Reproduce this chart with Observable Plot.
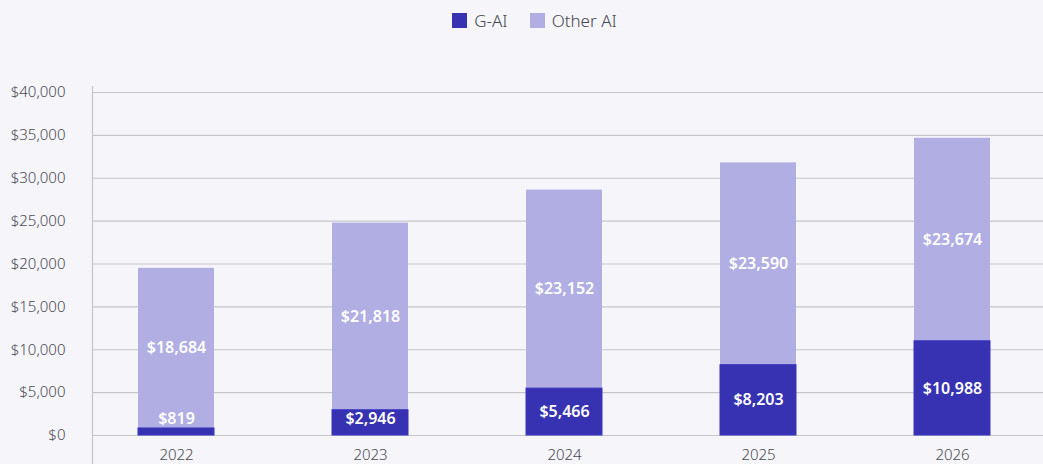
<!DOCTYPE html>
<html>
<head>
<meta charset="utf-8">
<script src="https://cdn.jsdelivr.net/npm/d3@7"></script>
<script src="https://cdn.jsdelivr.net/npm/@observablehq/plot@0.6"></script>
<style>
  html, body { margin: 0; padding: 0; background: #f5f5fa; }
  body { width: 1043px; height: 464px; overflow: hidden; font-family: "Noto Sans", sans-serif; }
  #legend { height: 40px; display: flex; justify-content: center; align-items: center; gap: 22px; font-size: 17px; color: #45454f; padding-left: 26px; box-sizing: border-box; font-weight: 300; }
  .item { display: flex; align-items: center; gap: 7px; }
  .sw { width: 15px; height: 15px; display: inline-block; }
</style>
</head>
<body>
<div id="legend"></div>
<div id="chart"></div>
<script>
const years = ["2022", "2023", "2024", "2025", "2026"];
const gai = [819, 2946, 5466, 8203, 10988];
const other = [18684, 21818, 23152, 23590, 23674];
const series = ["G-AI", "Other AI"];
const colors = ["#3632b1", "#b0aee3"];
const yTicks = [0, 5000, 10000, 15000, 20000, 25000, 30000, 35000, 40000];

const gaiData = years.map((y, i) => ({year: y, series: "G-AI", value: gai[i], base: 0}));
const otherData = years.map((y, i) => ({year: y, series: "Other AI", value: other[i], base: gai[i]}));
const data = gaiData.concat(otherData);

const fmt = v => "$" + d3.format(",")(v);

const legend = document.getElementById("legend");
series.forEach((s, i) => {
  const it = document.createElement("div");
  it.className = "item";
  it.innerHTML = `<span class="sw" style="background:${colors[i]}"></span><span>${s}</span>`;
  legend.appendChild(it);
});

const chart = Plot.plot({
  width: 1043,
  height: 424,
  marginTop: 52,
  marginBottom: 29,
  marginLeft: 92,
  marginRight: 0,
  style: {background: "#f5f5fa", fontFamily: "Noto Sans, sans-serif"},
  x: {domain: years, paddingInner: 0.609, paddingOuter: 0.252, align: 0.469, label: null},
  y: {domain: [0, 40000], label: null},
  color: {domain: series, range: colors},
  marks: [
    Plot.ruleY(yTicks, {stroke: "#c5c5cc", strokeWidth: 1.2}),
    Plot.rectY(otherData, {x: "year", y1: "base", y2: d => d.base + d.value, fill: "series"}),
    Plot.rectY(gaiData, {x: "year", y1: "base", y2: d => d.base + d.value, fill: "series", stroke: "#3a35c0", strokeWidth: 1}),
    Plot.frame({anchor: "left", stroke: "#c5c5cc", strokeWidth: 1.2, insetTop: -6, insetBottom: -29}),
    Plot.text(data, {x: "year", y: d => d.series === "G-AI" ? Math.max(d.value / 2, 1980) : d.base + d.value / 2,
      text: d => fmt(d.value), fill: "white", fontSize: 16, fontWeight: 600}),
    Plot.axisY({ticks: yTicks, tickFormat: fmt, tickSize: 0, tickPadding: 27, fontSize: 15, fontWeight: 300, fill: "#4a4a52"}),
    Plot.axisX({tickSize: 0, tickPadding: 14, fontSize: 15, fontWeight: 300, fill: "#4a4a52"})
  ]
});
document.getElementById("chart").appendChild(chart);
</script>
</body>
</html>
